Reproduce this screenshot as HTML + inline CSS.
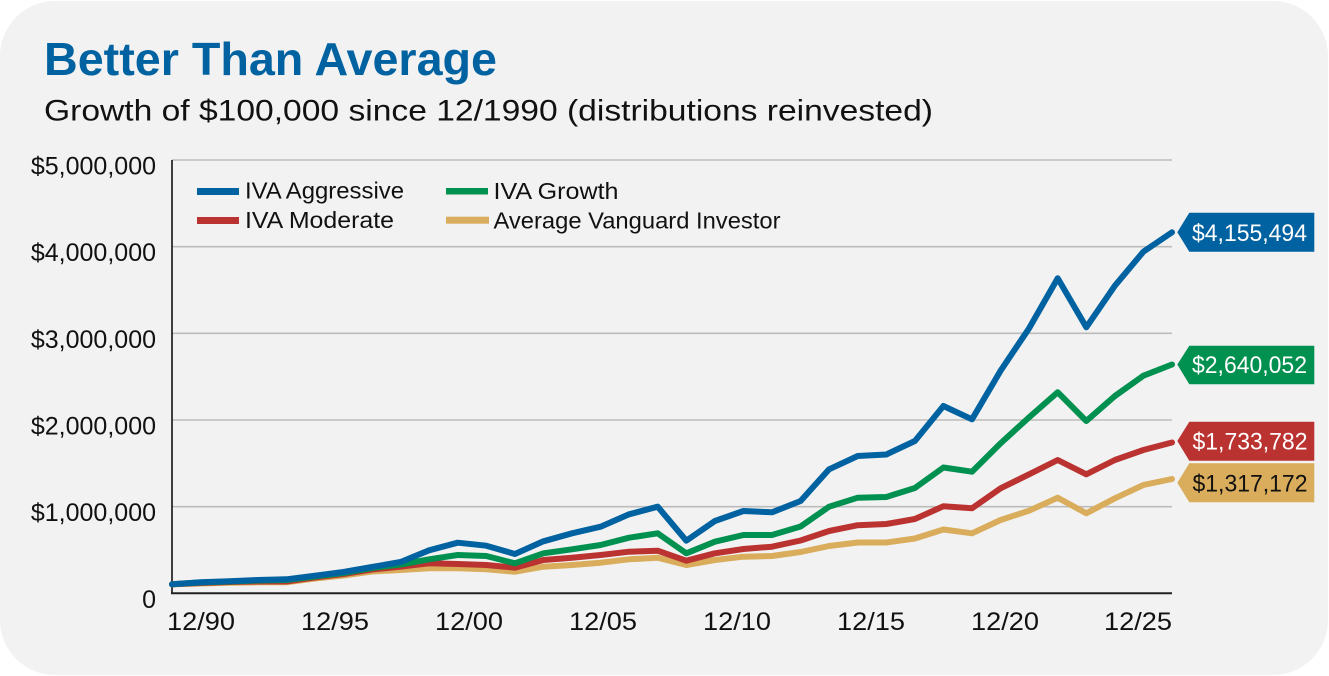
<!DOCTYPE html>
<html>
<head>
<meta charset="utf-8">
<style>
  html, body { margin: 0; padding: 0; background: #ffffff; }
  svg { display: block; }
  text { font-family: "Liberation Sans", Arial, sans-serif; }
</style>
</head>
<body>
<svg width="1329" height="676" viewBox="0 0 1329 676" xmlns="http://www.w3.org/2000/svg">
  <!-- card -->
  <rect x="0" y="1" width="1328" height="674" rx="55" ry="55" fill="#f2f2f2"/>

  <!-- title -->
  <text x="44" y="75" font-size="46" font-weight="bold" fill="#0062a0" textLength="453" lengthAdjust="spacingAndGlyphs">Better Than Average</text>
  <text x="44" y="120.5" font-size="30" fill="#111" textLength="889" lengthAdjust="spacingAndGlyphs">Growth of $100,000 since 12/1990 (distributions reinvested)</text>

  <!-- gridlines -->
  <g stroke="#bcbcbc" stroke-width="1.6">
    <line x1="172" y1="160" x2="1172" y2="160"/>
    <line x1="172" y1="246.7" x2="1172" y2="246.7"/>
    <line x1="172" y1="333.3" x2="1172" y2="333.3"/>
    <line x1="172" y1="420" x2="1172" y2="420"/>
    <line x1="172" y1="506.7" x2="1172" y2="506.7"/>
  </g>
  <!-- axes -->
  <line x1="172" y1="160" x2="172" y2="594" stroke="#111" stroke-width="1.6"/>
  <line x1="171" y1="593.3" x2="1172" y2="593.3" stroke="#222" stroke-width="2"/>

  <!-- y labels -->
  <g font-size="25" fill="#111" text-anchor="end">
    <text x="156" y="174.5">$5,000,000</text>
    <text x="156" y="261.2">$4,000,000</text>
    <text x="156" y="347.8">$3,000,000</text>
    <text x="156" y="434.5">$2,000,000</text>
    <text x="156" y="521.2">$1,000,000</text>
    <text x="156" y="607.8">0</text>
  </g>

  <!-- x labels -->
  <g font-size="25" fill="#111">
    <text x="167" y="630" textLength="68" lengthAdjust="spacingAndGlyphs">12/90</text>
    <text x="301" y="630" textLength="68" lengthAdjust="spacingAndGlyphs">12/95</text>
    <text x="435" y="630" textLength="68" lengthAdjust="spacingAndGlyphs">12/00</text>
    <text x="569" y="630" textLength="68" lengthAdjust="spacingAndGlyphs">12/05</text>
    <text x="703" y="630" textLength="68" lengthAdjust="spacingAndGlyphs">12/10</text>
    <text x="837" y="630" textLength="68" lengthAdjust="spacingAndGlyphs">12/15</text>
    <text x="971" y="630" textLength="68" lengthAdjust="spacingAndGlyphs">12/20</text>
    <text x="1104" y="630" textLength="68" lengthAdjust="spacingAndGlyphs">12/25</text>
  </g>

  <!-- legend -->
  <rect x="197" y="188" width="42" height="7" fill="#0062a0"/>
  <text x="245" y="198.5" font-size="23" fill="#111" textLength="159" lengthAdjust="spacingAndGlyphs">IVA Aggressive</text>
  <rect x="197" y="217" width="42" height="7" fill="#bb3330"/>
  <text x="245" y="228" font-size="23" fill="#111" textLength="149" lengthAdjust="spacingAndGlyphs">IVA Moderate</text>
  <rect x="446" y="188" width="42" height="6.5" fill="#00904f"/>
  <text x="493.5" y="199" font-size="23" fill="#111" textLength="125" lengthAdjust="spacingAndGlyphs">IVA Growth</text>
  <rect x="446" y="216.7" width="43" height="7" fill="#d9ad5d"/>
  <text x="493.5" y="228.3" font-size="23" fill="#111" textLength="287" lengthAdjust="spacingAndGlyphs">Average Vanguard Investor</text>

  <!-- series -->
  <g fill="none" stroke-width="6" stroke-linejoin="round" stroke-linecap="round">
    <polyline stroke="#d9ad5b" points="172,584.3 200.6,583.5 229.1,582.7 257.7,582.3 286.3,582.3 314.9,578.5 343.4,575.5 372,571.5 400.6,570 429.1,568.3 457.7,568.3 486.3,569.3 514.9,571.7 543.4,566.7 572,565 600.6,562.7 629.1,559.3 657.7,557.7 686.3,565 714.9,560 743.4,556.7 772,556 800.6,552 829.1,546 857.7,542.5 886.3,542.5 914.9,538.5 943.4,529.5 972,533.3 1000.6,520 1029.1,510.7 1057.7,497.7 1086.3,513.3 1114.9,498.3 1143.4,485 1172,479"/>
    <polyline stroke="#bb3330" points="172,584.3 200.6,583 229.1,582 257.7,581.5 286.3,581.5 314.9,577.5 343.4,574 372,569.5 400.6,566.7 429.1,563.3 457.7,564 486.3,565 514.9,567.7 543.4,560 572,557.7 600.6,555 629.1,551.7 657.7,550.7 686.3,560.7 714.9,553.3 743.4,549 772,546.7 800.6,540.5 829.1,531 857.7,525.2 886.3,524 914.9,519 943.4,506.3 972,508.3 1000.6,488.3 1029.1,474.3 1057.7,460 1086.3,474.3 1114.9,460 1143.4,450 1172,442.5"/>
    <polyline stroke="#00904f" points="172,584.3 200.6,582.5 229.1,581.5 257.7,580.5 286.3,580 314.9,576.5 343.4,573 372,568 400.6,564.5 429.1,559.3 457.7,555 486.3,556 514.9,563.3 543.4,553.3 572,549.3 600.6,545 629.1,537.7 657.7,533.3 686.3,553.3 714.9,541.7 743.4,535 772,535 800.6,526.5 829.1,506.7 857.7,497.7 886.3,497 914.9,488 943.4,467.5 972,471.7 1000.6,443.3 1029.1,417.3 1057.7,392.3 1086.3,421 1114.9,396 1143.4,375.7 1172,364.5"/>
    <polyline stroke="#0062a0" points="172,584.3 200.6,582.3 229.1,581.3 257.7,580 286.3,579.3 314.9,575.7 343.4,572 372,567 400.6,562 429.1,550.3 457.7,542.7 486.3,545.7 514.9,554 543.4,541.3 572,533.3 600.6,526.7 629.1,514.3 657.7,506.7 686.3,540.7 714.9,521 743.4,511 772,512.3 800.6,501 829.1,469.3 857.7,456 886.3,454.5 914.9,441 943.4,406 972,419.3 1000.6,370.7 1029.1,328.3 1057.7,278.3 1086.3,327.3 1114.9,285.7 1143.4,251.7 1172,232.3"/>
  </g>

  <!-- end value labels -->
  <path d="M1177.3,232.3 L1189.3,212.7 L1314.3,212.7 L1314.3,251.7 L1189.3,251.7 Z" fill="#0062a0"/>
  <text x="1192" y="240.8" font-size="24" fill="#ffffff" textLength="115" lengthAdjust="spacingAndGlyphs">$4,155,494</text>

  <path d="M1177.3,364.5 L1189.3,345.7 L1314.3,345.7 L1314.3,384.3 L1189.3,384.3 Z" fill="#00904f"/>
  <text x="1192" y="373" font-size="24" fill="#ffffff" textLength="115" lengthAdjust="spacingAndGlyphs">$2,640,052</text>

  <path d="M1177.3,441 L1189.3,421.7 L1314.3,421.7 L1314.3,460.7 L1189.3,460.7 Z" fill="#bb3330"/>
  <text x="1192.5" y="449.7" font-size="24" fill="#ffffff" textLength="115" lengthAdjust="spacingAndGlyphs">$1,733,782</text>

  <path d="M1177.3,482.8 L1189.3,463.3 L1314.3,463.3 L1314.3,502.3 L1189.3,502.3 Z" fill="#d9ad5b"/>
  <text x="1192.5" y="491.5" font-size="24" fill="#111111" textLength="115" lengthAdjust="spacingAndGlyphs">$1,317,172</text>
</svg>
</body>
</html>
